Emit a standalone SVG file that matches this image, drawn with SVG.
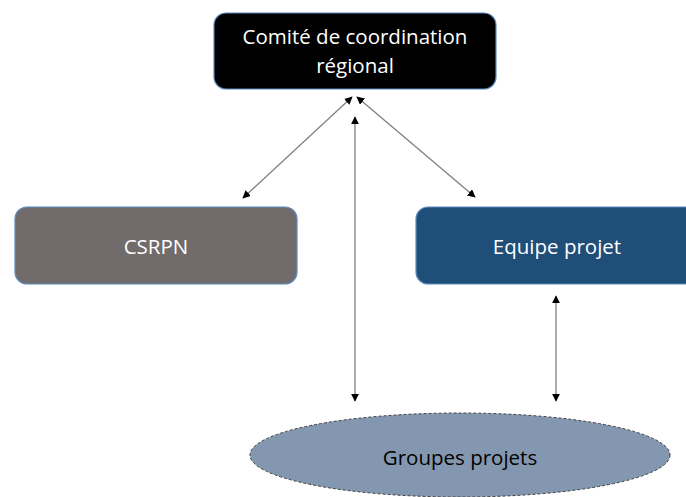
<svg xmlns="http://www.w3.org/2000/svg" width="686" height="497" viewBox="0 0 686 497">
<style>
text{font-family:"Open Sans","Liberation Sans",Arial,sans-serif;text-anchor:middle;}
.w{fill:#ffffff;font-size:20.5px;}
.k{fill:#000000;font-size:20.5px;}
.c{stroke:#7f7f7f;stroke-width:1.3;fill:none;marker-start:url(#a);marker-end:url(#a);}
</style>
<defs>
<marker id="a" viewBox="0 0 10 10" refX="9" refY="5" markerWidth="8" markerHeight="8" markerUnits="userSpaceOnUse" orient="auto-start-reverse">
<path d="M0,0 L10,5 L0,10 z" fill="#000"/>
</marker>
</defs>
<rect width="686" height="497" fill="#ffffff"/>
<g id="comite">
<rect x="214" y="13" width="282" height="76" rx="12" fill="#000000" stroke="#5b8bc0" stroke-width="1.2"/>
<text class="w" x="355" y="44">Comité de coordination</text>
<text class="w" x="355" y="73">régional</text>
</g>
<g id="csrpn">
<rect x="15" y="207" width="282" height="77" rx="12" fill="#716c6b" stroke="#5b8bc0" stroke-width="1.2"/>
<text class="w" x="156" y="254">CSRPN</text>
</g>
<g id="equipe">
<rect x="416" y="207" width="290" height="77" rx="12" fill="#1f4e79" stroke="#5b8bc0" stroke-width="1.2"/>
<text class="w" x="557" y="254">Equipe projet</text>
</g>
<g id="groupes">
<ellipse cx="460" cy="455" rx="210" ry="42" fill="#8497b0" stroke="#404040" stroke-width="1" stroke-dasharray="3,2"/>
<text class="k" x="460" y="465">Groupes projets</text>
</g>
<g id="connectors">
<line class="c" x1="352" y1="97" x2="243" y2="198"/>
<line class="c" x1="357" y1="97" x2="475" y2="197"/>
<line class="c" x1="355" y1="117" x2="355" y2="401"/>
<line class="c" x1="556" y1="296" x2="556" y2="401"/>
</g>
</svg>
